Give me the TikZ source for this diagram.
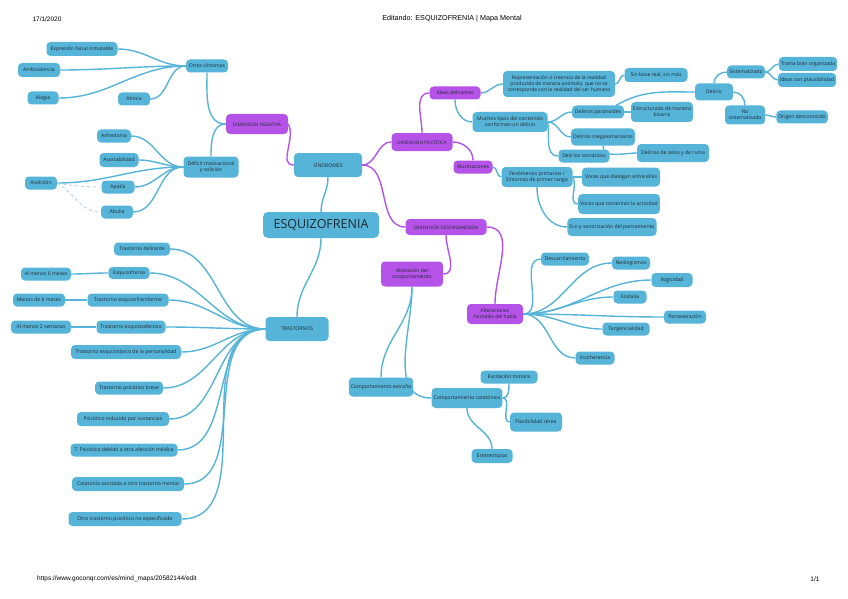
\documentclass[tikz,border=0pt]{standalone}
\usepackage{fontspec}
\setmainfont{Open Sans}
\newfontfamily\hdr{Liberation Sans}
\definecolor{mmblue}{HTML}{56B4D9}
\definecolor{mmpurp}{HTML}{B553E8}
\definecolor{mmtext}{HTML}{1E2A30}
\definecolor{mmlight}{HTML}{A8D8EC}
\pgfdeclarelayer{bg}
\pgfsetlayers{bg,main}
\tikzset{
  box/.style={rounded corners=4pt, align=center, inner xsep=2pt, inner ysep=1pt, text=mmtext, font=\fontsize{5.1}{6}\selectfont},
  bn/.style={box, fill=mmblue, minimum width=#1, minimum height=13pt},
  pn/.style={box, fill=mmpurp, minimum width=#1, minimum height=13pt, font=\fontsize{4.6}{5.6}\selectfont},
  bl/.style={draw=mmblue, line width=1.4pt},
  pl/.style={draw=mmpurp, line width=1.4pt},
  dl/.style={draw=mmlight, line width=0.9pt, dashed},
  hdrtxt/.style={font=\hdr\fontsize{6.5}{7}\selectfont, inner sep=0pt, text=black}
}
\begin{document}
\begin{tikzpicture}[x=1pt,y=-1pt]
\useasboundingbox (0,0) rectangle (848,599);

% header / footer
\node[hdrtxt] (date) at (47,19) {17/1/2020};
\node[hdrtxt, font=\hdr\fontsize{7.2}{8}\selectfont] (title) at (452,19) {Editando: ESQUIZOFRENIA | Mapa Mental};
\node[hdrtxt, anchor=west] (url) at (37,579) {https://www.goconqr.com/es/mind\_maps/20582144/edit};
\node[hdrtxt] (page) at (815,579) {1/1};

% central
\node[bn=116pt, minimum height=26pt, rounded corners=5pt, font=\fontsize{12.5}{14}\selectfont] (esq) at (321,225) {ESQUIZOFRENIA};
\node[bn=68pt, minimum height=24pt] (sind) at (328,165) {SÍNDROMES};
\node[bn=63pt, minimum height=24pt] (tras) at (297,329) {TRASTORNOS};

% dimension negativa
\node[pn=62pt, minimum height=20pt] (neg) at (257,124) {DIMENSIÓN NEGATIVA};
\node[bn=42pt] (otros) at (207,66) {Otros síntomas};
\node[bn=71pt, minimum height=14pt] (expr) at (82,49) {Expresión facial inmutable};
\node[bn=42pt, minimum height=14pt] (ambiv) at (39,70) {Ambivalencia};
\node[bn=31pt] (alog) at (43,98) {Alogia};
\node[bn=32pt] (atim) at (134,99) {Atimia};
\node[bn=55pt, minimum height=21pt] (defi) at (211,167) {Déficit motivacional\\y volición};
\node[bn=34pt] (anhe) at (114,136) {Anhedonia};
\node[bn=39pt, minimum height=14pt] (asoc) at (119,160) {Asociabilidad};
\node[bn=32pt] (avol) at (41,183) {Avolición};
\node[bn=33pt] (apat) at (118,187) {Apatía};
\node[bn=32pt] (abul) at (117,212) {Abulia};

% dimension psicotica
\node[pn=61pt, minimum height=18pt] (psic) at (422,142) {DIMENSIÓN PSICÓTICA};
\node[pn=51pt, font=\fontsize{5}{5.9}\selectfont] (idea) at (455,93) {Ideas delirantes};
\node[pn=39pt, font=\fontsize{5}{5.9}\selectfont] (aluc) at (473,167) {Alucinaciones};
\node[bn=112pt, minimum height=26pt, font=\fontsize{5}{5.9}\selectfont] (repr) at (559,84) {Representación o creencia de la realidad\\producida de manera anómala, que no se\\corresponde con la realidad del ser humano};
\node[bn=63pt, minimum height=14pt] (sinb) at (656,75) {Sin base real, sin más};
\node[bn=75pt, minimum height=20pt] (much) at (510,122) {Muchos tipos del contenido\\conforman un delirio};
\node[bn=52pt] (para) at (598,112) {Delirios paranoides};
\node[bn=62pt, minimum height=20pt] (estr) at (662,112) {Estructurado de manera\\bizarra};
\node[bn=38pt, minimum height=17pt] (deli) at (714,92) {Delirio};
\node[bn=38pt] (sist) at (746,72) {Sistematizado};
\node[bn=58pt, minimum height=14pt] (tram) at (808,64) {Trama bien organizada};
\node[bn=56pt, minimum height=14pt] (inte) at (807,80) {Ideas con plausibilidad};
\node[bn=40pt, minimum height=19pt] (nosi) at (745,115) {No\\sistematizado};
\node[bn=49pt] (orig) at (802,117) {Origen desconocido};
\node[bn=59pt, minimum height=17pt] (mega) at (603,137) {Delirios megalomaníacos};
\node[bn=72pt, minimum height=18pt] (celo) at (673,153) {Delirios de celos y de ruina};
\node[bn=51pt] (soma) at (584,156) {Delirios somáticos};
\node[bn=71pt, minimum height=20pt] (feno) at (537,177) {Fenómenos primarios /\\Síntomas de primer rango};
\node[bn=78pt, minimum height=19pt] (vdia) at (621,177) {Voces que dialogan entre ellas};
\node[bn=80pt, minimum height=20pt] (vcom) at (619,204) {Voces que comentan la actividad};
\node[bn=89pt, minimum height=18pt] (eco) at (612,227) {Eco y sonorización del pensamiento};

% dimension desorganizada
\node[pn=81pt, minimum height=16pt] (deso) at (446,227) {DIMENSIÓN DESORGANIZADA};
\node[pn=62pt, minimum height=25pt, font=\fontsize{5}{5.9}\selectfont] (altc) at (412,274) {Alteración del\\comportamiento};
\node[pn=56pt, minimum height=20pt, font=\fontsize{5}{5.9}\selectfont] (altf) at (495,314) {Alteraciones\\formales del habla};
\node[bn=48pt] (desc) at (565,259) {Descarrilamiento};
\node[bn=38pt] (neol) at (631,263) {Neologismos};
\node[bn=41pt, minimum height=14pt] (ilog) at (672,280) {Ilogicidad};
\node[bn=33pt] (ecol) at (630,297) {Ecolalia};
\node[bn=42pt] (pers) at (685,317) {Perseveración};
\node[bn=47pt] (tang) at (626,329) {Tangencialidad};
\node[bn=39pt] (inco) at (595,358) {Incoherencia};
\node[bn=62pt, minimum height=19pt] (comp) at (381,387) {Comportamiento extraño};
\node[bn=67pt, minimum height=20pt] (cata) at (467,398) {Comportamiento catatónico};
\node[bn=57pt] (exmo) at (509,377) {Excitación motora};
\node[bn=52pt, minimum height=19pt] (flex) at (536,422) {Flexibilidad cérea};
\node[bn=41pt, minimum height=14pt] (este) at (492,456) {Estereotipias};

% trastornos
\node[bn=56pt] (tdel) at (142,249) {Trastorno delirante};
\node[bn=41pt, minimum height=12pt] (tesq) at (129,273) {Esquizofrenia};
\node[bn=50pt] (mseis) at (46,274) {Al menos 6 meses};
\node[bn=81pt] (tefo) at (128,300) {Trastorno esquizofreniforme};
\node[bn=52pt] (menseis) at (39,300) {Menos de 6 meses};
\node[bn=69pt] (teaf) at (131,327) {Trastorno esquizoafectivo};
\node[bn=60pt] (mdos) at (41,327) {Al menos 2 semanas};
\node[bn=110pt, minimum height=14pt] (tetp) at (126,352) {Trastorno esquizotípico de la personalidad};
\node[bn=68pt] (tpb) at (129,388) {Trastorno psicótico breve};
\node[bn=92pt, minimum height=14pt] (tpis) at (123,419) {Psicótico inducido por sustancias};
\node[bn=107pt] (tpmed) at (124,450) {T. Psicótico debido a otra afección médica};
\node[bn=112pt, minimum height=14pt] (tcat) at (128,484) {Catatonía asociada a otro trastorno mental};
\node[bn=113pt, minimum height=14pt] (tnoe) at (125,519) {Otro trastorno psicótico no especificado};

\begin{pgfonlayer}{bg}
\fill[white] (0,0) rectangle (848,599);
% trunk
\draw[bl] (esq.north) to[out=90,in=-90] (sind.south);
\draw[bl] (esq.south) to[out=-90,in=90] (tras.north);
\draw[pl] (neg.east) to[out=-60,in=180] (sind.west);
\draw[pl] (sind.east) to[out=0,in=180] (psic.west);
\draw[pl] (sind.east) to[out=0,in=180] (deso.west);
% negativa
\draw[bl] (neg.west) to[out=180,in=-90] (otros.south);
\draw[bl] (neg.west) to[out=180,in=90] (defi.north);
\foreach \c in {expr,ambiv,alog,atim} \draw[bl] (otros.west) to[out=180,in=0] (\c.east);
\foreach \c in {anhe,asoc,avol,apat,abul} \draw[bl] (defi.west) to[out=180,in=0] (\c.east);
\draw[dl] (avol.east) to[out=-10,in=180] (apat.west);
\draw[dl] (avol.east) to[out=-30,in=180] (abul.west);
% psicotica
\draw[pl] (psic.north) to[out=90,in=180] (idea.west);
\draw[pl] (psic.east) to[out=0,in=90] (aluc.north);
\draw[bl] (idea.east) to[out=0,in=180] (repr.west);
\draw[bl] (idea.south) to[out=-90,in=180] (much.west);
\draw[bl] (repr.east) to[out=0,in=180] (sinb.west);
\draw[bl] (much.east) to[out=0,in=180] (para.west);
\draw[bl] (much.east) to[out=0,in=180] (mega.west);
\draw[bl] (much.east) to[out=-80,in=180] (soma.west);
\draw[bl] (mega.south) to[out=-90,in=180] (celo.west);
\draw[bl] (para.east) to[out=0,in=180] (estr.west);
\draw[bl] ([xshift=-8pt]para.north east) to[out=30,in=180] (deli.west);
\draw[bl] (deli.north) to[out=90,in=180] (sist.west);
\draw[bl] (deli.east) to[out=0,in=90] (nosi.north);
\draw[bl] (sist.east) to[out=0,in=180] (tram.west);
\draw[bl] (sist.east) to[out=0,in=180] (inte.west);
\draw[bl] (nosi.east) to[out=0,in=180] (orig.west);
\draw[bl] (aluc.east) to[out=0,in=180] (feno.west);
\draw[bl] (feno.east) to[out=0,in=180] (vdia.west);
\draw[bl] (feno.east) to[out=-60,in=180] (vcom.west);
\draw[bl] (feno.south) to[out=-90,in=180] (eco.west);
% desorganizada
\draw[pl] (deso.south) to[out=-90,in=0] (altc.east);
\draw[pl] (deso.east) to[out=0,in=90] (altf.north);
\draw[bl] (altc.south) to[out=-90,in=90] (comp.north);
\draw[bl] (altc.south) to[out=-90,in=180] (cata.west);
\draw[bl] (cata.east) to[out=0,in=-90] (exmo.south);
\draw[bl] (cata.east) to[out=0,in=180] (flex.west);
\draw[bl] (cata.south) to[out=-90,in=90] (este.north);
\foreach \c in {desc,neol,ilog,ecol,pers,tang,inco} \draw[bl] (altf.east) to[out=0,in=180] (\c.west);
% trastornos
\foreach \c in {tdel,tesq,tefo,teaf,tetp,tpb,tpis,tpmed,tcat,tnoe} \draw[bl] (tras.west) to[out=180,in=0] (\c.east);
\draw[bl] (tesq.west) to[out=180,in=0] (mseis.east);
\draw[bl] (tefo.west) to[out=180,in=0] (menseis.east);
\draw[bl] (teaf.west) to[out=180,in=0] (mdos.east);
\end{pgfonlayer}
\end{tikzpicture}
\end{document}
